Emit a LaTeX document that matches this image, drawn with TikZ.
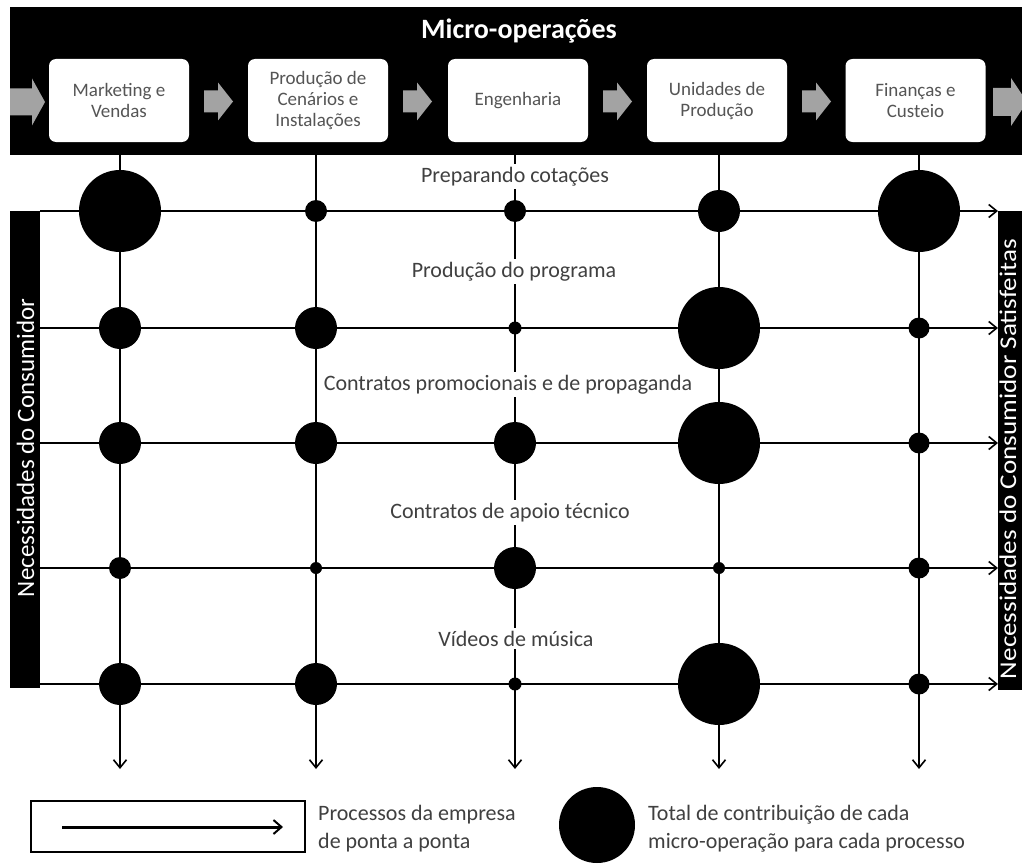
\documentclass[tikz,border=0pt]{standalone}
\usepackage{fontspec}
\setmainfont{Carlito}
\usetikzlibrary{arrows.meta,calc}
\definecolor{boxtext}{HTML}{555555}
\definecolor{labeltext}{HTML}{404040}
\definecolor{arrowgray}{HTML}{A3A3A3}
% left x, centre y, length, head length, shaft half height, head half height
\newcommand\opArrow[6]{%
  \fill[arrowgray] (#1,#2-#5) -- (#1+#3-#4,#2-#5) -- (#1+#3-#4,#2-#6) -- (#1+#3,#2)
    -- (#1+#3-#4,#2+#6) -- (#1+#3-#4,#2+#5) -- (#1,#2+#5) -- cycle;}
\begin{document}
\begin{tikzpicture}[x=1pt,y=-1pt,
  opbox/.style={fill=white, rounded corners=7pt, minimum width=140pt, minimum height=83pt,
    align=center, text=boxtext, font=\fontsize{19}{21}\selectfont, inner sep=0pt},
  flowline/.style={line width=2pt, -{Straight Barb[length=8pt,width=13pt,line width=1.6pt]}},
  opdot/.style={circle, fill=black, inner sep=0pt, minimum size=#1},
  proclabel/.style={fill=white, inner xsep=3pt, inner ysep=3pt, text=labeltext,
    font=\fontsize{22}{26}\selectfont, anchor=base},
  sidetext/.style={text=white, rotate=90, font=\fontsize{25}{30}\selectfont, inner sep=0pt, anchor=base},
  legtext/.style={text=labeltext, font=\fontsize{22}{28}\selectfont, align=left, anchor=base west, inner sep=0pt}
]
\useasboundingbox (0,0) rectangle (1022,864);
\fill[white] (0,0) rectangle (1022,864);

% top bar
\fill[black] (10,7) rectangle (1022,155);
\node[text=white, font=\bfseries\fontsize{28}{32}\selectfont, anchor=base] (title) at (519,39) {Micro-operações};

\node[opbox] (mv) at (119,100.5) {Marketing e\\Vendas};
\node[opbox] (pc) at (318,100.5) {Produção de\\Cenários e\\Instalações};
\node[opbox] (en) at (518,100.5) {Engenharia};
\node[opbox] (up) at (717,100.5) {Unidades de\\Produção};
\node[opbox] (fc) at (915.5,100.5) {Finanças e\\Custeio};

\opArrow{10}{102}{35}{13}{13.5}{23.5}
\opArrow{204}{101.5}{29}{15}{11}{19}
\opArrow{403}{101.5}{29}{15}{11}{19}
\opArrow{603}{101.5}{29}{15}{11}{19}
\opArrow{802}{101.5}{29}{15}{11}{19}
\opArrow{993}{102}{34}{16}{14}{24}

% column and row end points
\foreach \n/\x in {1/120,2/316,3/515,4/719,5/919}{
  \coordinate (c\n t) at (\x,155);
  \coordinate (c\n b) at (\x,769);
}
\foreach \n/\y in {1/211,2/328,3/443,4/568,5/684}{
  \coordinate (r\n l) at (40,\y);
  \coordinate (r\n r) at (998,\y);
}
\foreach \n in {1,...,5}{
  \draw[flowline] (c\n t) -- (c\n b);
  \draw[flowline] (r\n l) -- (r\n r);
}

% contribution dots
\foreach \r/\y/\a/\b/\c/\d/\e in {1/211/82/22/22/42/82, 2/328/42/42/13/82/21, 3/443/42/42/42/82/21,
    4/568/22/12/42/12/21, 5/684/42/42/13/82/21}{
  \node[opdot=\a] (d\r1) at (120,\y) {};
  \node[opdot=\b] (d\r2) at (316,\y) {};
  \node[opdot=\c] (d\r3) at (515,\y) {};
  \node[opdot=\d] (d\r4) at (719,\y) {};
  \node[opdot=\e] (d\r5) at (919,\y) {};
}

% process labels
\node[proclabel] (l1) at (515,182) {Preparando cotações};
\node[proclabel] (l2) at (514,277) {Produção do programa};
\node[proclabel] (l3) at (508,390) {Contratos promocionais e de propaganda};
\node[proclabel] (l4) at (510,518) {Contratos de apoio técnico};
\node[proclabel] (l5) at (516,646) {Vídeos de música};

% side bars
\fill[black] (10,211) rectangle (40,688);
\node[sidetext] (lt) at (34,448) {Necessidades do Consumidor};
\fill[black] (998,211) rectangle (1022,690);
\node[sidetext, font=\fontsize{24}{28}\selectfont] (rt) at (1016,459) {\scalebox{1.13}[1]{Necessidades do Consumidor Satisfeitas}};

% legend
\node[draw=black, line width=2.5pt, minimum width=274pt, minimum height=51pt, inner sep=0pt] (legbox) at (168,826.5) {};
\coordinate (la) at (62,827);
\coordinate (lb) at (283,827);
\draw[line width=3pt, -{Straight Barb[length=8pt,width=14pt,line width=2pt]}] (la) -- (lb);
\node[legtext] (lt1) at (318,848) {Processos da empresa\\de ponta a ponta};
\node[opdot=76] (legdot) at (597,825) {};
\node[legtext] (lt2) at (648,848) {Total de contribuição de cada\\micro-operação para cada processo};
\end{tikzpicture}
\end{document}
